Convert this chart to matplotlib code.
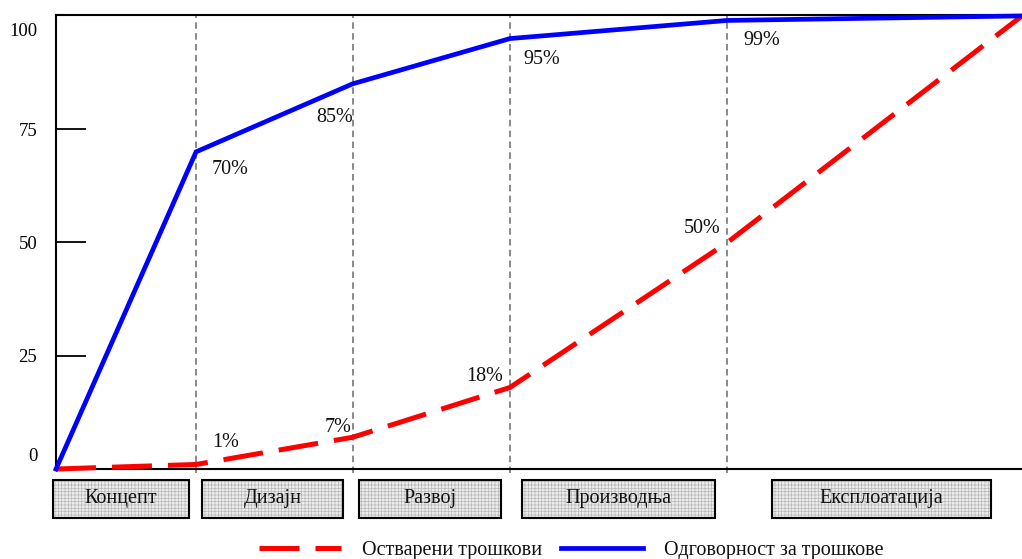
import matplotlib
matplotlib.use("Agg")
import matplotlib.pyplot as plt
from matplotlib.patches import Rectangle
from matplotlib.lines import Line2D
import matplotlib.transforms as mtransforms

plt.rcParams["font.family"] = ["Liberation Serif", "DejaVu Serif"]
plt.rcParams["hatch.linewidth"] = 0.5

# Life-cycle timeline (relative position of each phase end) and cumulative shares
phase_end = [0, 14.5, 30.7, 47.0, 69.5, 100]
committed = [0, 70, 85, 95, 99, 100]      # Одговорност за трошкове
incurred = [0, 1, 7, 18, 50, 100]         # Остварени трошкови

phases = ["Концепт", "Дизајн", "Развој", "Производња", "Експлоатација"]
y_ticks = [0, 25, 50, 75, 100]
y_tick_labels = ["0", "25", "50", "75", "100"]

series_names = ["Остварени трошкови", "Одговорност за трошкове"]

# label placement (offset in points from the labelled point, alignment)
committed_label_style = {70: ((11.5, -13), "left"), 85: ((0, -24), "right"),
                         95: ((9.4, -15), "left"), 99: ((11.5, -14.4), "left")}
incurred_label_style = {1: ((11.5, 15.5), "left"), 7: ((-0.7, 7.2), "right"),
                        18: ((-5, 7.6), "right"), 50: ((-5, 10), "right")}

# phase boxes below the axis: x extents in data units
box_spans = [(-0.3, 13.8), (15.1, 29.7), (31.4, 46.1), (48.2, 68.2), (74.1, 96.8)]

TXT = 14.5
INK = "#111111"

W, H = 1022, 559
fig = plt.figure(figsize=(W / 100, H / 100), dpi=100)
ax = fig.add_axes([56 / W, 1 - 469 / H, 1 - 56 / W, (469 - 15) / H])
ax.set_xlim(0, 100)
ax.set_ylim(0, 100.2)

for s in ("left", "top", "bottom"):
    ax.spines[s].set_linewidth(1.5)
    ax.spines[s].set_color("black")
ax.spines["right"].set_visible(False)

ax.set_xticks([])
ax.set_yticks(y_ticks)
ax.set_yticklabels(y_tick_labels, fontsize=13.5, color=INK)
ax.tick_params(axis="y", direction="in", length=21.6, width=1.3, pad=13.5, colors="black")
yt = ax.yaxis.get_major_ticks()
for t in (yt[0], yt[-1]):
    t.tick1line.set_visible(False)
ylabels = ax.get_yticklabels()
ylabels[0].set_va("bottom")
ylabels[0].set_transform(ylabels[0].get_transform()
                         + mtransforms.ScaledTranslation(0, 4 / 100, fig.dpi_scale_trans))
ylabels[-1].set_va("top")
ylabels[-1].set_transform(ylabels[-1].get_transform()
                          + mtransforms.ScaledTranslation(0, -7 / 100, fig.dpi_scale_trans))

# phase boundaries
for xb in phase_end[1:-1]:
    ax.axvline(xb, ymin=-0.008, ymax=1, color="#808080", lw=1.3,
               linestyle=(0, (3.6, 2.4)), clip_on=False, zorder=1)

red_ls = (0, (8.0, 3.2))
ax.plot(phase_end, incurred, color="#ff0000", lw=3.6, linestyle=red_ls,
        dash_capstyle="butt", clip_on=False, zorder=3)
ax.plot(phase_end, committed, color="#0000ff", lw=3.4, solid_joinstyle="miter",
        clip_on=False, zorder=4)

for x, v in zip(phase_end, committed):
    if v in committed_label_style:
        off, ha = committed_label_style[v]
        ax.annotate(f"{v}%", (x, v), xytext=off, textcoords="offset points",
                    ha=ha, va="center", fontsize=TXT, color=INK)
for x, v in zip(phase_end, incurred):
    if v in incurred_label_style:
        off, ha = incurred_label_style[v]
        ax.annotate(f"{v}%", (x, v), xytext=off, textcoords="offset points",
                    ha=ha, va="center", fontsize=TXT, color=INK)

# phase boxes
trans = mtransforms.blended_transform_factory(ax.transData, ax.transAxes)
box_top = (469 - 480) / (469 - 15)
box_bot = (469 - 518) / (469 - 15)
for name, (x0, x1) in zip(phases, box_spans):
    fill = Rectangle((x0, box_bot), x1 - x0, box_top - box_bot, transform=trans,
                     facecolor="#ececec", edgecolor="#b8b8b8", lw=0, hatch="+++++",
                     clip_on=False, zorder=2)
    ax.add_patch(fill)
    frame = Rectangle((x0, box_bot), x1 - x0, box_top - box_bot, transform=trans,
                      facecolor="none", edgecolor="black", lw=1.5,
                      clip_on=False, zorder=3)
    ax.add_patch(frame)
    ax.text((x0 + x1) / 2, (box_top + box_bot) / 2, name, transform=trans,
            ha="center", va="center", fontsize=TXT, color=INK, zorder=4)

handles = [Line2D([], [], color="#ff0000", lw=3.6, linestyle=red_ls, dash_capstyle="butt"),
           Line2D([], [], color="#0000ff", lw=3.4)]
fig.legend(handles, series_names, loc="center", bbox_to_anchor=(571 / W, 1 - 550 / H),
           ncol=2, frameon=False, fontsize=TXT, handlelength=4.1, handletextpad=1.0,
           columnspacing=0.95, borderpad=0, borderaxespad=0, labelcolor=INK)

fig.savefig("out.png", dpi=100)
